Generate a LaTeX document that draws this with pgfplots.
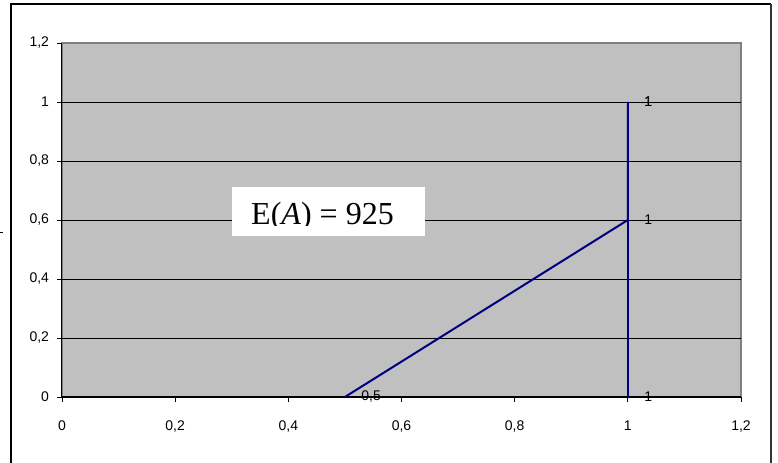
\documentclass[border=0pt]{standalone}
\usepackage{fontspec}
\setmainfont{Liberation Sans}
\newfontfamily\timesfont{Liberation Serif}
\usepackage{pgfplots}
\pgfplotsset{compat=1.18}
\definecolor{plotgray}{RGB}{192,192,192}
\definecolor{bordergray}{RGB}{128,128,128}
\definecolor{navyline}{RGB}{0,0,128}
\begin{document}
\begin{tikzpicture}
\useasboundingbox (0,0) rectangle (778bp,463bp);
\begin{axis}[
  at={(62bp,66bp)}, anchor=south west,
  scale only axis, width=679bp, height=354bp,
  xmin=0, xmax=1.2, ymin=0, ymax=1.2,
  axis x line*=bottom, axis y line*=left,
  x axis line style={-, draw=black, line width=1bp},
  y axis line style={-, draw=black, line width=1bp},
  axis background/.style={fill=plotgray, draw=bordergray, line width=1.6bp},
  xtick={0,0.2,0.4,0.6,0.8,1,1.2},
  ytick={0,0.2,0.4,0.6,0.8,1},
  extra y ticks={1.2},
  extra y tick style={grid=none},
  ymajorgrids,
  major grid style={black, line width=0.9bp},
  tick align=outside,
  major tick length=5bp,
  tick style={black, line width=0.9bp},
  /pgf/number format/use comma,
  /pgf/number format/assume math mode=true,
  tick label style={font=\fontsize{14bp}{17bp}\selectfont},
  yticklabel style={xshift=-4.5bp},
  xticklabel style={yshift=-15.5bp},
  every node near coord/.append style={anchor=west, inner sep=0pt, xshift=15.5bp, yshift=0pt, font=\fontsize{14bp}{17bp}\selectfont, black},
]
\addplot[navyline, line width=2bp, mark=none, point meta=x, nodes near coords] coordinates {(0.5,0) (1,0.6) (1,1)};
\addplot[navyline, line width=2bp, mark=none, point meta=x, nodes near coords] coordinates {(1,0) (1,1)};
\end{axis}
\fill[white] (232bp,227bp) rectangle (425bp,276bp);
\begin{scope}
\clip (232bp,237bp) rectangle (425bp,276bp);
\node[anchor=base west, inner sep=0pt, font=\timesfont\fontsize{32bp}{38bp}\selectfont] at (251bp,238bp) {E(\textit{A}) = 925};
\end{scope}
\draw[black, line width=1.5bp] (11bp,0) -- (11bp,459bp) -- (771bp,459bp);
\draw[black!80, line width=2bp] (771bp,459bp) -- (771bp,0);
\draw[black, line width=1bp] (0,230.5bp) -- (3bp,230.5bp);
\end{tikzpicture}
\end{document}
